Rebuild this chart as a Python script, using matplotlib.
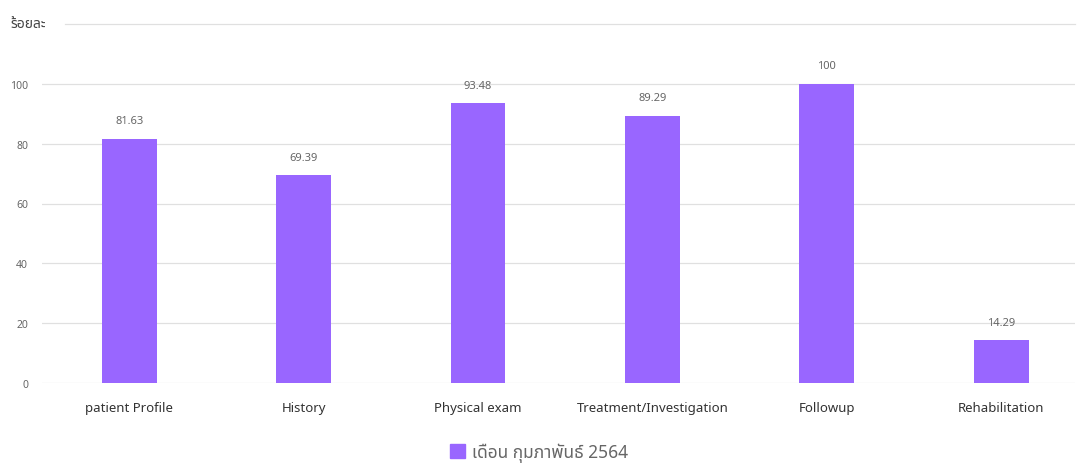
import matplotlib
matplotlib.use("Agg")
import matplotlib.pyplot as plt
from matplotlib import font_manager
from matplotlib.patches import Patch

categories = ["patient Profile", "History", "Physical exam",
              "Treatment/Investigation", "Followup", "Rehabilitation"]
values = [81.63, 69.39, 93.48, 89.29, 100, 14.29]
series_name = "เดือน กุมภาพันธ์ 2564"
y_title = "ร้อยละ"
y_ticks = [0, 20, 40, 60, 80, 100]
y_labels = ["0", "20", "40", "60", "80", "100"]
y_top = 120

installed = {f.name for f in font_manager.fontManager.ttflist}
thai = next((n for n in ["Noto Sans Thai", "Sarabun", "IBM Plex Sans Thai",
                         "Niramit"] if n in installed), "DejaVu Sans")
plt.rcParams["font.family"] = ["Noto Sans", thai, "DejaVu Sans"]

bar_color = "#9966ff"
grid_color = "#e0e0e0"

fig = plt.figure(figsize=(10.78, 4.64), dpi=100)
ax = fig.add_axes([42 / 1078, 80 / 464, 1033 / 1078, 359 / 464])

x = list(range(len(categories)))
bars = ax.bar(x, values, width=0.315, color=bar_color, zorder=3)
for b, v in zip(bars, values):
    ax.annotate(f"{v:g}", (b.get_x() + b.get_width() / 2, v),
                xytext=(0, 9), textcoords="offset points",
                ha="center", va="bottom", fontsize=8, color="#666666")

ax.set_ylim(0, y_top)
ax.set_xlim(-0.5, 1033 / 174.4 - 0.5)
ax.set_yticks(y_ticks)
ax.set_yticklabels(y_labels)
ax.set_xticks(x)
ax.set_xticklabels(categories)
ax.grid(axis="y", color=grid_color, linewidth=0.9, zorder=0)
# top line starts after the unit label
ax.axhline(y_top, xmin=23 / 1033, color=grid_color, linewidth=0.9,
           zorder=0, clip_on=False)
ax.tick_params(axis="y", length=0, pad=10, labelsize=7.5, labelcolor="#666666")
ax.tick_params(axis="x", length=0, pad=13, labelsize=9.5, labelcolor="#333333")
for s in ax.spines.values():
    s.set_visible(False)

fig.text(10 / 1078, 1 - 24 / 464, y_title, ha="left", va="center",
         fontsize=10, color="#444444", fontweight="medium",
         family=[thai, "DejaVu Sans"])

fig.legend(handles=[Patch(color=bar_color, label=series_name)],
           loc="center", bbox_to_anchor=(0.5, 11 / 464), frameon=False,
           labelcolor="#666666", handlelength=0.9,
           handleheight=0.9, handletextpad=0.4,
           prop={"family": [thai, "DejaVu Sans"], "size": 12.5})

fig.savefig("out.png", dpi=100)
